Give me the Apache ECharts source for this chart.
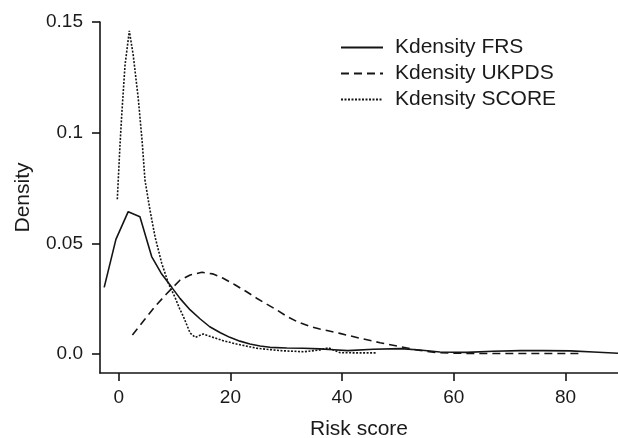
<!DOCTYPE html>
<html>
<head>
<meta charset="utf-8">
<script src="https://cdn.jsdelivr.net/npm/echarts@6/dist/echarts.min.js"></script>
<style>
html, body { margin: 0; padding: 0; background: #fff; }
#chart { width: 618px; height: 438px; }
</style>
</head>
<body>
<div id="chart"></div>
<script>
// tick labels
const xTicks = [0, 20, 40, 60, 80];
const yTicks = [0, 0.05, 0.1, 0.15];
const yTickLabels = ['0.0', '0.05', '0.1', '0.15'];

const seriesNames = ['Kdensity FRS', 'Kdensity UKPDS', 'Kdensity SCORE'];

// Kdensity FRS
const frsX = [-2.6, -0.5, 1.7, 3.8, 5.9, 7.6, 9.5, 11.0, 12.8, 14.6, 16.3, 18.2, 19.9, 21.7, 23.5, 25.3, 27.1,
  30.1, 33.1, 36.0, 38.5, 41.0, 45.6, 50.4, 53.9, 57.5, 62.3, 67.0, 71.9, 76.0, 80.9, 85.0, 89.4];
const frsY = [0.0301, 0.0518, 0.0643, 0.0620, 0.0440, 0.0365, 0.0301, 0.0250, 0.0199, 0.0158, 0.0123, 0.0096,
  0.0075, 0.0058, 0.0045, 0.0036, 0.0030, 0.0027, 0.0026, 0.0023, 0.0019, 0.0015, 0.0021, 0.0024, 0.0018,
  0.0009, 0.0007, 0.0012, 0.0015, 0.0015, 0.0014, 0.0009, 0.0003];

// Kdensity UKPDS
const ukpdsX = [2.45, 4.5, 6.5, 8.5, 9.5, 11.0, 12.8, 14.9, 16.8, 18.7, 20.8, 22.9, 24.7, 26.5, 28.3, 30.1,
  32.2, 34.3, 36.0, 37.5, 39.6, 43.2, 46.8, 50.4, 53.4, 56.9, 61.1, 66.0, 72.0, 78.0, 82.6];
const ukpdsY = [0.0086, 0.0151, 0.0214, 0.0270, 0.0296, 0.0334, 0.0357, 0.0369, 0.0362, 0.0342, 0.0313,
  0.0281, 0.0252, 0.0225, 0.0199, 0.0170, 0.0143, 0.0124, 0.0113, 0.0105, 0.0093, 0.0071, 0.0051, 0.0033,
  0.0018, 0.0006, 0.0003, 0.0002, 0.0002, 0.0002, 0.0002];

// Kdensity SCORE
const scoreX = [-0.25, 0.23, 0.54, 1.13, 1.9, 2.6, 3.5, 4.2, 4.7, 5.6, 6.5, 7.7, 8.9, 10.1, 10.9, 11.6, 12.8,
  13.7, 15.1, 16.9, 18.7, 21.1, 24.7, 28.9, 33.1, 36.0, 37.5, 38.5, 39.6, 42.0, 46.2];
const scoreY = [0.0699, 0.0944, 0.108, 0.1305, 0.146, 0.135, 0.1155, 0.0959, 0.0786, 0.065, 0.053, 0.041,
  0.0319, 0.0255, 0.0205, 0.0168, 0.0094, 0.0075, 0.0090, 0.0075, 0.0060, 0.0045, 0.0026, 0.0015, 0.0010,
  0.0018, 0.0028, 0.0018, 0.0006, 0.0005, 0.0005];

const pairs = (xs, ys) => xs.map((x, i) => [x, ys[i]]);
const txt = '#1a1a1a';
const ink = '#151515';
const font = 'Liberation Sans, Arial, sans-serif';

function lineSeries(name, data, type) {
  return {
    name: name,
    type: 'line',
    data: data,
    symbol: 'none',
    smooth: false,
    lineStyle: { color: ink, width: 1.6, type: type },
    itemStyle: { color: ink }
  };
}

const chart = echarts.init(document.getElementById('chart'));
chart.setOption({
  animation: false,
  textStyle: { fontFamily: font },
  grid: { left: 100, right: 0, top: 22, bottom: 65, outerBoundsMode: 'none' },
  legend: {
    orient: 'vertical',
    left: 340,
    top: 37,
    padding: 0,
    itemWidth: 42,
    itemHeight: 14,
    itemGap: 5,
    data: seriesNames,
    itemStyle: { opacity: 0 },
    textStyle: { fontSize: 21, color: txt, fontFamily: font, padding: [0, 0, 0, 7] }
  },
  xAxis: {
    type: 'value',
    min: -3.35,
    max: 89.4,
    name: 'Risk score',
    nameLocation: 'middle',
    nameGap: 46,
    nameTextStyle: { fontSize: 21, color: txt },
    splitLine: { show: false },
    axisLine: { onZero: false, lineStyle: { color: ink, width: 1.6 } },
    axisTick: { customValues: xTicks, length: 8, lineStyle: { color: ink, width: 1.6 } },
    axisLabel: { customValues: xTicks, fontSize: 19, margin: 15, color: txt }
  },
  yAxis: {
    type: 'value',
    min: -0.0086,
    max: 0.15,
    name: 'Density',
    nameLocation: 'middle',
    nameGap: 66,
    nameTextStyle: { fontSize: 21, color: txt },
    splitLine: { show: false },
    axisLine: { show: true, onZero: false, lineStyle: { color: ink, width: 1.6 } },
    axisTick: { show: true, customValues: yTicks, length: 8, lineStyle: { color: ink, width: 1.6 } },
    axisLabel: {
      customValues: yTicks,
      fontSize: 19,
      margin: 17,
      color: txt,
      formatter: function (v) {
        const i = yTicks.findIndex(t => Math.abs(t - v) < 1e-9);
        return i >= 0 ? yTickLabels[i] : '';
      }
    }
  },
  series: [
    lineSeries(seriesNames[0], pairs(frsX, frsY), 'solid'),
    lineSeries(seriesNames[1], pairs(ukpdsX, ukpdsY), [8, 5]),
    lineSeries(seriesNames[2], pairs(scoreX, scoreY), [2, 1.5])
  ]
});
</script>
</body>
</html>
